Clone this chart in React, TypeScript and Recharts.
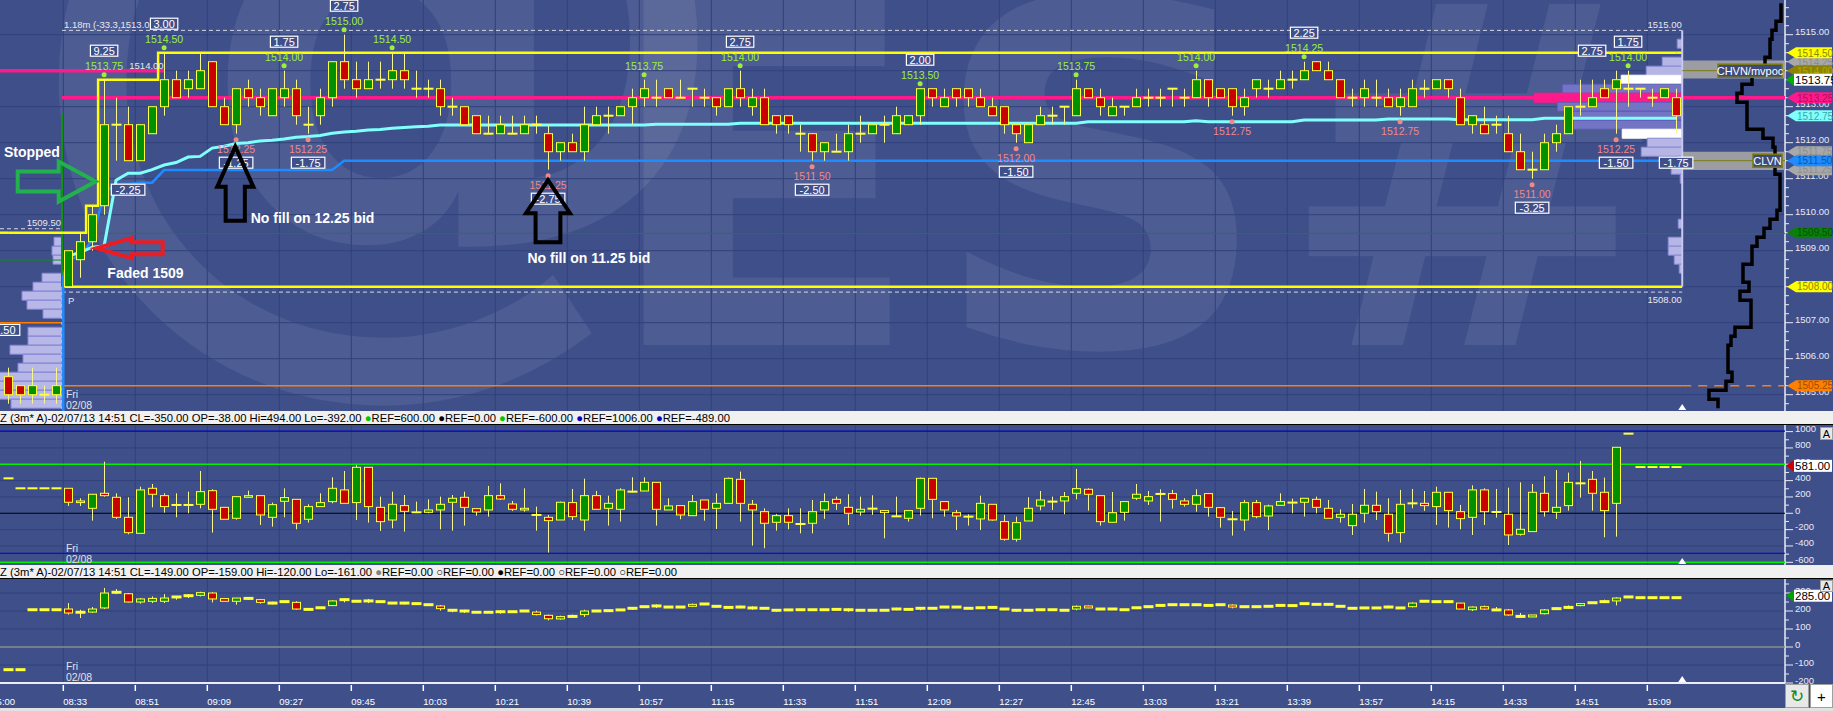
import React from 'react';
import {
  ComposedChart, Bar, Line, XAxis, YAxis, CartesianGrid,
  ReferenceLine, ReferenceArea, ReferenceDot,
} from 'recharts';

// ---------- layout & look ----------
const W = 1833;
const AXIS_W = 48;
const TOP_H = 411;
const OSC1_TOP = 425;
const OSC1_H = 140;
const OSC2_TOP = 579;
const OSC2_H = 132;
const XAXIS_H = 28;

const BG = '#3F4F8A';
const GRID = '#31407A';
const AXIS_INK = '#E8EAF4';
const UP = '#009000';
const DOWN = '#C80000';
const EDGE = '#FFFF3A';
const WICK = '#F6F68C';
const HI_INK = '#9CF03A';
const LO_INK = '#F08888';
const PINK = '#FF1A8C';
const ORANGE = '#FF7F00';
const YELLOW = '#FFFF00';
const FONT = '"Liberation Sans", Arial, sans-serif';

// ---------- data ----------
const PRE = 5; // bars shown before the session open

// E-mini 3 min bars: open, high, low, close (5 pre-session bars, then 08:33 .. 15:15)
const esBars = [
  [1505.5, 1505.75, 1504.75, 1505], [1505.25, 1505.25, 1504.75, 1505], [1505, 1505.75, 1504.75, 1505.25],
  [1505, 1505.25, 1504.75, 1505], [1505, 1505.75, 1504.75, 1505.25],
  [1508, 1509, 1508, 1509], [1508.75, 1509.5, 1508.25, 1509.25], [1509.25, 1510.25, 1509, 1510],
  [1510.25, 1513.75, 1510, 1512.5], [1512.5, 1513.25, 1511.5, 1512.5], [1512.5, 1513, 1511.5, 1511.5],
  [1511.5, 1512.5, 1511.5, 1512.5], [1512.25, 1513, 1512.25, 1513], [1513, 1514.5, 1512.75, 1513.75],
  [1513.75, 1514, 1513.25, 1513.25], [1513.5, 1514, 1513.25, 1513.75], [1513.5, 1514.5, 1513.5, 1514],
  [1514.25, 1514.25, 1513, 1513], [1513, 1513.25, 1512.5, 1512.5], [1512.5, 1513.5, 1512.25, 1513.5],
  [1513.5, 1513.75, 1513, 1513.25], [1513.25, 1513.5, 1512.75, 1513], [1512.75, 1513.5, 1512.75, 1513.5],
  [1513.25, 1514, 1513, 1513.5], [1513.5, 1513.75, 1512.5, 1512.75], [1512.5, 1513, 1512.25, 1512.5],
  [1512.75, 1513.5, 1512.5, 1513.25], [1513.25, 1514.25, 1513, 1514.25], [1514.25, 1515, 1513.5, 1513.75],
  [1513.75, 1514.25, 1513.25, 1513.5], [1513.5, 1514.25, 1513.5, 1513.75], [1513.75, 1514.25, 1513.5, 1513.75],
  [1513.75, 1514.5, 1513.5, 1514], [1514, 1514.5, 1513.5, 1513.75], [1513.5, 1514, 1513.25, 1513.5],
  [1513.5, 1513.75, 1513.25, 1513.5], [1513.5, 1513.75, 1512.75, 1513], [1513, 1513.25, 1512.75, 1513],
  [1513, 1513, 1512.5, 1512.5], [1512.75, 1512.75, 1512.25, 1512.25], [1512.25, 1512.75, 1512.25, 1512.25],
  [1512.25, 1512.75, 1512.25, 1512.5], [1512.25, 1512.75, 1512.25, 1512.25], [1512.25, 1512.75, 1512.25, 1512.5],
  [1512.5, 1512.75, 1512.25, 1512.5], [1512.25, 1512.5, 1511.25, 1511.75], [1511.75, 1512, 1511.5, 1512],
  [1512, 1512.25, 1511.75, 1511.75], [1511.75, 1513, 1511.5, 1512.5], [1512.5, 1513, 1512.5, 1512.75],
  [1512.75, 1513, 1512.25, 1512.75], [1512.75, 1513, 1512.75, 1513], [1513, 1513.5, 1512.5, 1513.25],
  [1513.25, 1513.75, 1513, 1513.5], [1513.25, 1513.75, 1513, 1513.25], [1513.5, 1513.5, 1513.25, 1513.25],
  [1513.25, 1513.75, 1513.25, 1513.25], [1513.5, 1513.5, 1513, 1513.5], [1513.25, 1513.5, 1513, 1513.25],
  [1513.25, 1513.25, 1512.75, 1513], [1513, 1513.5, 1513, 1513.5], [1513.5, 1514, 1513, 1513.25],
  [1513, 1513.5, 1512.75, 1513.25], [1513.25, 1513.5, 1512.5, 1512.5], [1512.75, 1512.75, 1512.25, 1512.5],
  [1512.75, 1512.75, 1512.25, 1512.5], [1512.25, 1512.5, 1511.75, 1512.25], [1512.25, 1512.25, 1511.5, 1511.75],
  [1511.75, 1512, 1511.5, 1512], [1511.75, 1512.25, 1511.75, 1511.75], [1511.75, 1512.5, 1511.5, 1512.25],
  [1512.25, 1512.75, 1512, 1512.25], [1512.25, 1512.5, 1512.25, 1512.5], [1512.5, 1512.75, 1512, 1512.5],
  [1512.25, 1513, 1512.25, 1512.75], [1512.5, 1512.75, 1512.5, 1512.75], [1512.75, 1513.5, 1512.5, 1513.5],
  [1513.5, 1513.5, 1513, 1513.25], [1513, 1513.5, 1513, 1513.25], [1513.5, 1513.5, 1513, 1513.25],
  [1513.5, 1513.5, 1513, 1513.25], [1513.25, 1513.5, 1513, 1513], [1513, 1513.25, 1512.75, 1512.75],
  [1513, 1513, 1512.25, 1512.5], [1512.5, 1512.5, 1512, 1512.25], [1512, 1512.5, 1512, 1512.5],
  [1512.5, 1513, 1512.5, 1512.75], [1512.75, 1513, 1512.5, 1512.75], [1513, 1513, 1512.5, 1513],
  [1512.75, 1513.75, 1512.75, 1513.5], [1513.5, 1513.5, 1513.25, 1513.25], [1513.25, 1513.5, 1512.75, 1513],
  [1512.75, 1513.25, 1512.75, 1513], [1513, 1513, 1512.75, 1513], [1513, 1513.5, 1513, 1513.25],
  [1513.25, 1513.5, 1513, 1513.25], [1513.25, 1513.5, 1513, 1513.25], [1513.5, 1513.5, 1513, 1513.5],
  [1513.25, 1513.5, 1513, 1513.25], [1513.25, 1514, 1513.25, 1513.75], [1513.75, 1513.75, 1513, 1513.25],
  [1513.5, 1513.5, 1513.25, 1513.25], [1513.5, 1513.5, 1512.75, 1513], [1513, 1513.5, 1512.75, 1513.25],
  [1513.5, 1513.75, 1513.25, 1513.75], [1513.5, 1513.75, 1513.25, 1513.5], [1513.5, 1514, 1513.5, 1513.75],
  [1513.75, 1514, 1513.5, 1513.75], [1513.75, 1514.25, 1513.75, 1514], [1514.25, 1514.25, 1514, 1514],
  [1514, 1514.25, 1513.75, 1513.75], [1513.75, 1513.75, 1513.25, 1513.25], [1513.25, 1513.5, 1513, 1513.25],
  [1513.25, 1513.75, 1513, 1513.5], [1513.25, 1513.75, 1513, 1513.25], [1513.25, 1513.5, 1513, 1513],
  [1513, 1513.5, 1512.75, 1513.25], [1513, 1513.75, 1513, 1513.5], [1513.5, 1513.75, 1513.25, 1513.5],
  [1513.5, 1513.75, 1513.5, 1513.75], [1513.75, 1513.75, 1513.25, 1513.5], [1513.25, 1513.5, 1512.5, 1512.5],
  [1512.5, 1512.75, 1512.25, 1512.75], [1512.5, 1513, 1512.25, 1512.25], [1512.5, 1512.75, 1512.25, 1512.5],
  [1512.25, 1512.75, 1511.75, 1511.75], [1511.75, 1512.25, 1511.25, 1511.25], [1511.25, 1511.75, 1511, 1511.25],
  [1511.25, 1512.25, 1511.25, 1512], [1512, 1512.5, 1511.75, 1512.25], [1512.25, 1513, 1512.25, 1513],
  [1513, 1513.75, 1512.75, 1513], [1513, 1513.75, 1513, 1513.25], [1513.5, 1513.75, 1513.25, 1513.25],
  [1513.5, 1514, 1512.25, 1513.75], [1513.5, 1514, 1513, 1513.5], [1513.5, 1513.5, 1513.25, 1513.5],
  [1513.25, 1513.5, 1513, 1513.25], [1513.25, 1513.5, 1513.25, 1513.5], [1513.25, 1513.5, 1512.25, 1512.75],
];

// upper oscillator (open, high, low, close)
const osc1Bars = [
  [428, 428, 428, 428], [306, 306, 306, 306], [306, 306, 306, 306], [306, 306, 306, 306], [306, 306, 306, 306],
  [306, 306, 90, 135], [131, 184, 90, 151], [61, 233, -90, 233], [245, 632, 204, 216], [196, 245, -69, -49],
  [-49, 196, -257, -237], [-245, 326, -245, 286], [306, 359, 73, 233], [216, 245, 8, 82], [102, 245, -49, 102],
  [102, 265, 0, 102], [110, 518, 61, 265], [277, 294, -237, 49], [73, 73, -73, -73], [-61, 204, -78, 204],
  [196, 277, 196, 216], [216, 216, -143, -20], [-49, 131, -163, 106], [147, 306, -49, 192], [171, 171, -196, -122],
  [-73, 110, -114, 82], [82, 245, 82, 131], [143, 441, 122, 306], [286, 518, 122, 122], [131, 592, -82, 563],
  [563, 563, -114, 82], [73, 204, -216, -102], [-82, 265, -184, 110], [94, 224, -224, 24], [12, 143, 12, 12],
  [12, 171, 0, 41], [41, 204, -196, 110], [135, 224, -212, 184], [196, 265, -151, 73], [57, 57, -29, 16],
  [41, 335, -41, 216], [216, 367, 163, 175], [114, 151, 29, 49], [41, 306, 20, 61], [-20, 82, -212, -20],
  [-49, -20, -481, -90], [-82, 143, -82, 135], [131, 298, -82, -41], [-82, 424, -212, 216], [216, 273, 41, 49],
  [61, 216, -151, 122], [49, 306, -102, 286], [265, 441, 255, 265], [273, 441, 273, 379], [379, 379, -151, 49],
  [41, 184, 41, 90], [94, 94, -73, -20], [-29, 224, -29, 143], [163, 163, -90, 49], [61, 245, -192, 122],
  [122, 437, 122, 428], [416, 510, -102, 122], [110, 163, -396, 41], [20, 61, -428, -122], [-110, -8, -212, -29],
  [-29, 61, -196, -110], [-131, 61, -245, -131], [-122, 163, -245, 20], [41, 245, -69, 143], [171, 204, 41, 122],
  [73, 233, -143, 0], [16, 204, -29, 49], [57, 220, -20, 57], [33, 41, -306, 8], [-37, 204, -41, -37],
  [-61, 41, -102, 33], [61, 437, -29, 428], [428, 428, -61, 171], [143, 143, -41, 41], [8, 41, -204, -33],
  [-41, -12, -151, -41], [-69, 216, -204, 122], [110, 110, -90, -82], [-102, -20, -335, -318], [-318, -41, -347, -114],
  [-94, 196, -94, 61], [90, 273, 37, 163], [143, 204, 41, 143], [151, 261, -12, 204], [245, 543, 171, 302],
  [294, 306, 33, 233], [216, 216, -151, -102], [-110, 261, -110, 8], [12, 143, -90, 143], [184, 359, 163, 233],
  [151, 273, 102, 204], [237, 294, -102, 237], [241, 286, 57, 171], [151, 184, 82, 110], [110, 294, 20, 216],
  [241, 245, -41, 73], [69, 73, -175, -49], [-73, 29, -273, -90], [-82, 163, -212, 131], [131, 163, -61, -41],
  [-33, 106, -204, 90], [98, 245, 98, 143], [131, 180, 0, 131], [135, 184, -41, 184], [171, 204, 0, 73],
  [61, 163, -61, -61], [-49, 49, -114, -12], [-151, 114, -265, -12], [0, 298, -114, 98], [98, 265, -82, 20],
  [-12, 184, -347, -245], [-237, 286, -359, 110], [122, 298, 61, 122], [122, 273, 29, 94], [82, 326, -143, 257],
  [257, 257, -175, 33], [20, 102, -196, -65], [-49, 343, -265, 286], [286, 306, -143, 20], [16, 298, -53, 16],
  [-12, 314, -388, -265], [-257, 379, -273, -196], [-224, 359, -224, 257], [245, 453, -41, 20], [12, 530, -69, 73],
  [94, 498, 33, 379], [367, 641, 192, 367], [416, 518, 33, 245], [257, 437, -294, 33], [122, 808, -286, 808],
  [975, 975, 975, 975], [567, 567, 567, 567], [567, 567, 567, 567], [567, 567, 567, 567], [567, 567, 567, 567],
];

// lower oscillator (open, high, low, close)
const osc2Bars = [
  [-126, -126, -126, -126], [-126, -126, -126, -126], [207, 207, 207, 207], [207, 207, 207, 207], [207, 207, 207, 207],
  [211, 244, 180, 189], [193, 207, 161, 193], [194, 222, 189, 211], [217, 328, 211, 300], [304, 322, 294, 304],
  [296, 300, 248, 250], [250, 272, 241, 267], [254, 281, 244, 270], [254, 294, 244, 272], [278, 281, 263, 278],
  [285, 294, 272, 285], [287, 307, 281, 302], [300, 304, 248, 267], [269, 272, 254, 254], [254, 272, 235, 272],
  [270, 276, 263, 270], [263, 267, 241, 248], [244, 252, 237, 244], [252, 256, 248, 252], [248, 254, 207, 211],
  [209, 212, 205, 209], [218, 222, 215, 218], [230, 259, 228, 256], [263, 270, 248, 263], [254, 258, 250, 254],
  [256, 267, 244, 256], [252, 255, 249, 252], [244, 248, 240, 244], [244, 250, 236, 244], [241, 244, 238, 241],
  [235, 238, 232, 235], [228, 233, 202, 213], [204, 207, 193, 204], [200, 207, 189, 200], [193, 196, 190, 193],
  [193, 196, 190, 193], [196, 204, 185, 196], [196, 199, 193, 196], [200, 204, 196, 200], [194, 202, 176, 180],
  [176, 180, 148, 157], [156, 174, 152, 169], [170, 180, 163, 170], [180, 207, 167, 200], [200, 204, 196, 200],
  [202, 205, 199, 202], [206, 209, 203, 206], [215, 222, 207, 215], [224, 228, 218, 224], [228, 237, 217, 228],
  [222, 225, 219, 222], [222, 225, 219, 222], [226, 241, 222, 237], [239, 242, 236, 239], [226, 233, 218, 226],
  [220, 223, 217, 220], [222, 230, 215, 222], [217, 226, 207, 217], [215, 218, 212, 215], [204, 211, 196, 204],
  [206, 209, 203, 206], [207, 211, 200, 207], [207, 210, 204, 207], [207, 210, 204, 207], [209, 212, 206, 209],
  [207, 215, 196, 207], [204, 207, 201, 204], [204, 207, 201, 204], [204, 207, 201, 204], [211, 218, 204, 211],
  [209, 212, 206, 209], [215, 222, 204, 215], [215, 218, 212, 215], [222, 225, 219, 222], [222, 225, 219, 222],
  [215, 218, 212, 215], [218, 221, 215, 218], [220, 223, 217, 220], [211, 217, 204, 211], [204, 211, 196, 204],
  [204, 207, 201, 204], [207, 210, 204, 207], [207, 210, 204, 207], [204, 207, 201, 204], [211, 231, 204, 226],
  [228, 230, 215, 217], [211, 214, 208, 211], [211, 214, 208, 211], [207, 210, 204, 207], [218, 221, 215, 218],
  [224, 227, 221, 224], [231, 237, 226, 231], [235, 238, 232, 235], [235, 238, 232, 235], [235, 241, 230, 235],
  [231, 234, 228, 231], [235, 238, 232, 235], [233, 237, 215, 222], [224, 227, 221, 224], [224, 227, 221, 224],
  [226, 229, 223, 226], [231, 234, 228, 231], [230, 233, 227, 230], [241, 244, 238, 241], [237, 240, 234, 237],
  [237, 244, 230, 237], [226, 229, 223, 226], [215, 218, 212, 215], [217, 220, 214, 217], [217, 220, 214, 217],
  [222, 230, 215, 222], [217, 220, 214, 217], [224, 248, 220, 244], [254, 257, 251, 254], [252, 255, 249, 252],
  [252, 255, 249, 252], [244, 244, 211, 211], [207, 226, 200, 222], [224, 230, 207, 211], [206, 222, 200, 206],
  [206, 211, 174, 178], [170, 189, 163, 170], [167, 178, 167, 178], [185, 211, 181, 206], [213, 222, 206, 213],
  [220, 231, 213, 220], [230, 244, 226, 241], [246, 250, 241, 246], [252, 263, 244, 252], [256, 276, 231, 272],
  [278, 278, 278, 278], [274, 274, 274, 274], [274, 274, 274, 274], [274, 274, 274, 274], [274, 274, 274, 274],
];

// session lines (one value per session bar)
const vwapLine = [
  1508.85, 1508.95, 1509.1, 1509.13, 1510.96, 1511.15, 1511.15, 1511.25, 1511.38, 1511.45, 1511.6, 1511.62,
  1511.85, 1511.9, 1511.98, 1512.0, 1512.05, 1512.07, 1512.1, 1512.15, 1512.17, 1512.2, 1512.26, 1512.3,
  1512.32, 1512.35, 1512.37, 1512.4, 1512.42, 1512.44, 1512.46,
  ...Array(18).fill(1512.49), ...Array(7).fill(1512.51), ...Array(29).fill(1512.54), ...Array(9).fill(1512.58),
  1512.61, ...Array(8).fill(1512.58), ...Array(7).fill(1512.63), ...Array(6).fill(1512.66),
  ...Array(7).fill(1512.64), ...Array(12).fill(1512.68),
];
const lowBandLine = [
  1508.75, 1508.85, 1509.3, 1510.6, 1510.85, 1510.85, 1510.89, 1510.89,
  ...Array(15).fill(1511.24), ...Array(112).fill(1511.5),
];
const lowBandStart = 1508.3; // value before the open
// initial-balance high, one value per bar including pre-session
const ibHighLine = [...Array(7).fill(1509.5), 1510.25, ...Array(5).fill(1513.75), ...Array(127).fill(1514.5)];

// reference levels
const ibLow = 1508;
const pocLevel = 1513.25;
const priorPocLevel = 1514;
const orangeLevel = 1505.25;
const priorOrangeLevel = 1507;
const greenLevel = 1509.48;
const priorGreenLevel = 1508.74;
const highDashLevel = 1515.12;
const lowDashLevel = 1507.85;
const priorDashLevel = 1509.61;
const hvnLevel = 1514;
const lvnLevel = 1511.5;
const lastPrice = 1513.75;

// volume profiles (price row, volume in px units)
const sessionProfilePrices = [1514.75, 1514.25, 1514, 1513.75, 1513.5, 1513.25, 1513, 1512.75, 1512.5, 1512.25,
  1512, 1511.75, 1511.5, 1511.25, 1511, 1509.75, 1509.25, 1509, 1508.75, 1508.5];
const sessionProfileVolumes = [5, 20, 36, 61, 120, 148, 125, 111, 109, 60, 35, 41, 4, 11, 2, 4, 14, 14, 8, 3];
const sessionProfileShade = ['l', 'l', 'l', 'w', 'd', 'p', 'd', 'd', 'd', 'w', 'l', 'l', 'l', 'l', 'l', 'l', 'l', 'l', 'l', 'l'];
const priorProfilePrices = [1509.25, 1509, 1508.75, 1508.25, 1508, 1507.75, 1507.5, 1507.25, 1506.75, 1506.5,
  1506.25, 1506, 1505.75, 1505.5, 1505.25, 1505, 1504.75];
const priorProfileVolumes = [8, 10, 9, 20, 29, 40, 35, 19, 34, 34, 52, 39, 44, 75, 75, 75, 51];

// TPO count per price row (far right)
const tpoPrices = Array.from({ length: 45 }, (_, k) => 1515.75 - 0.25 * k);
const tpoCounts = [40.5, 40.5, 38, 36, 35, 35, 32.5, 30, 26, 21, 18.5, 23.5, 23.5, 23.5, 31.5, 36.5, 37.5, 37.5,
  37.5, 40, 40, 40, 40, 38.5, 35, 32, 28.5, 26, 26, 21.5, 21.5, 24.5, 20, 25.5, 25.5, 25.5, 17.5, 15.5, 14, 14,
  14, 16, 13, 4.5, 9];

// swing marks
const swingHighBars = [3, 8, 18, 23, 27, 48, 56, 71, 84, 94, 103, 130];
const swingLowBars = [14, 20, 40, 62, 79, 97, 111, 122, 129];
const swingBoxBars = [3, 8, 18, 23, 56, 71, 103, 127, 130, 5, 14, 20, 40, 62, 79, 122, 129, 134];
const swingBoxTexts = ['9.25', '3.00', '1.75', '2.75', '2.75', '2.00', '2.25', '2.75', '1.75',
  '-2.25', '-1.25', '-1.75', '-2.75', '-2.50', '-1.50', '-3.25', '-1.50', '-1.75'];

// hand written notes
const noteTexts = ['Stopped', 'No fill on 12.25 bid', 'Faded 1509', 'No fill on 11.25 bid'];
const noteBars = [-5.35, 15.22, 3.27, 38.28];
const notePrices = [1511.74, 1509.91, 1508.39, 1508.81];
const arrowBars = [2.3, 2.38, 13.93, 39.99];
const arrowPrices = [1510.92, 1509.07, 1511.89, 1510.96];

// small chart texts
const infoTexts = ['1.18m (-33.3,1513.0', '1514.00', '1509.50', '1515.00', '1508.00', 'P'];
const infoBars = [-0.34, 6.53, -0.59, 134.47, 134.47, 0];
const infoPrices = [1515.29, 1514.15, 1509.78, 1515.27, 1507.65, 1507.63];
const infoAnchor = ['start', 'middle', 'end', 'end', 'end', 'start'];

// axis tags
const axisTagPrices = [1514.25, 1511.75, 1511.25, 1514.5, 1514, 1513.25, 1512.75, 1511.5, 1509.5, 1508, 1505.25];
const axisTagFills = ['#A8A8A8', '#A8A8A8', '#A8A8A8', '#FFFF00', '#8C8400', '#FF1A8C', '#80FFFF', '#1E8CFF', '#0A800A', '#FFFF00', '#FF8000'];
const axisTagInk = ['#8E8E8E', '#8E8E8E', '#8E8E8E', '#8A8A00', '#B2A600', '#B0105A', '#38A8A8', '#0C58A8', '#065006', '#8A8A00', '#A04C00'];

const osc1Refs = [1006, 600, 0, -489, -600];
const osc1RefColors = ['#0000C0', '#00F000', '#000000', '#0000C0', '#00F000'];
const osc1Last = 581;
const osc2Refs = [0];
const osc2Last = 285;

const timeLabels = ['15:00', '08:33', '08:51', '09:09', '09:27', '09:45', '10:03', '10:21', '10:39', '10:57',
  '11:15', '11:33', '11:51', '12:09', '12:27', '12:45', '13:03', '13:21', '13:39', '13:57', '14:15', '14:33',
  '14:51', '15:09'];
const timeTickBars = timeLabels.map((_, k) => -6.4 + 6 * k);

const header1 = [
  { t: 'Z (3m* A)-02/07/13 14:51 CL=-350.00 OP=-38.00 Hi=494.00 Lo=-392.00 ' },
  { t: '●', c: '#00C800' }, { t: 'REF=600.00 ' }, { t: '●', c: '#000000' }, { t: 'REF=0.00 ' },
  { t: '●', c: '#00C800' }, { t: 'REF=-600.00 ' }, { t: '●', c: '#0000C8' }, { t: 'REF=1006.00 ' },
  { t: '●', c: '#0000C8' }, { t: 'REF=-489.00' },
];
const header2 = [
  { t: 'Z (3m* A)-02/07/13 14:51 CL=-149.00 OP=-159.00 Hi=-120.00 Lo=-161.00 ' },
  { t: '●', c: '#808080' }, { t: 'REF=0.00 ' }, { t: '○' }, { t: 'REF=0.00 ' },
  { t: '●', c: '#000000' }, { t: 'REF=0.00 ' }, { t: '○' }, { t: 'REF=0.00 ' }, { t: '○' }, { t: 'REF=0.00' },
];

// ---------- scales ----------
const X0 = -5.675;
const X1 = 143.075;
const X_DOMAIN = [X0, X1];
const TOP_DOMAIN = [1504.547, 1515.964];
const OSC1_DOMAIN = [-633, 1081];
const OSC2_DOMAIN = [-200, 377.8];
const TPO_DOMAIN = [-850, 42.5];
const SESSION_START = -0.51;
const PROFILE_END = 134.51;
const VOL_BARS = 1 / 12;

const priceTicks = Array.from({ length: 45 }, (_, k) => 1504.75 + 0.25 * k);
const gridPrices = Array.from({ length: 11 }, (_, k) => 1505 + k);
const osc1Ticks = Array.from({ length: 17 }, (_, k) => -600 + 100 * k);
const osc2Ticks = Array.from({ length: 12 }, (_, k) => -200 + 50 * k);
const gridBars = timeTickBars.filter((b) => b > X0);

const rows = esBars.map((b, k) => ({
  i: k - PRE,
  es: b,
  o1: osc1Bars[k],
  o2: osc2Bars[k],
  ib: ibHighLine[k],
  vwap: k >= PRE ? vwapLine[k - PRE] : null,
  vlow: k >= PRE ? lowBandLine[k - PRE] : null,
}));
const tpoPoints = tpoPrices.flatMap((p, k) => [{ c: tpoCounts[k], p: p + 0.125 }, { c: tpoCounts[k], p: p - 0.125 }]);

// ---------- drawing helpers ----------
function makeCandle(key: string, dashH: number) {
  return (props: any) => {
    const { x, y, width, height, payload } = props;
    const bar = payload && payload[key];
    if (!bar) return <g />;
    const [o, h, l, c] = bar;
    const top = Math.min(y, y + height);
    const bot = Math.max(y, y + height);
    const cx = Math.round(x + width / 2) + 0.5;
    const at = (v: number) => (h === l ? top : top + ((h - v) / (h - l)) * (bot - top));
    const yo = at(o);
    const yc = at(c);
    const bodyH = Math.abs(yc - yo);
    return (
      <g>
        <line x1={cx} x2={cx} y1={top} y2={bot} stroke={WICK} strokeWidth={1} />
        {bodyH < 1.5 ? (
          <rect x={cx - 5} y={yo - dashH / 2} width={10} height={dashH} fill={EDGE} />
        ) : (
          <rect x={cx - 4} y={Math.min(yo, yc)} width={8} height={bodyH}
            fill={c > o ? UP : DOWN} stroke={EDGE} strokeWidth={1} />
        )}
      </g>
    );
  };
}
const esCandle = makeCandle('es', 2);
const osc1Candle = makeCandle('o1', 2);
const osc2Candle = makeCandle('o2', 3);

const PriceTick = (p: any) => {
  const v = p.payload.value;
  const major = Math.abs(v - Math.round(v)) < 1e-6;
  return (
    <g>
      <line x1={p.x} x2={p.x + (major ? 8 : 4)} y1={p.y} y2={p.y} stroke={AXIS_INK} />
      {major && (
        <text x={p.x + 10} y={p.y + 0.5} fill={AXIS_INK} fontSize={9.5} fontFamily={FONT}>{v.toFixed(2)}</text>
      )}
    </g>
  );
};
const makeOscTick = (labelStep: number) => (p: any) => {
  const v = p.payload.value;
  const major = v % labelStep === 0;
  return (
    <g>
      <line x1={p.x} x2={p.x + (major ? 8 : 4)} y1={p.y} y2={p.y} stroke={AXIS_INK} />
      {major && (
        <text x={p.x + 10} y={p.y + 0.5} fill={AXIS_INK} fontSize={9.5} fontFamily={FONT}>{String(v)}</text>
      )}
    </g>
  );
};
const Osc1Tick = makeOscTick(200);
const Osc2Tick = makeOscTick(100);

const TimeTick = (p: any) => {
  const k = timeTickBars.indexOf(p.payload.value);
  return (
    <g>
      <line x1={p.x} x2={p.x} y1={p.y + 2} y2={p.y + 8} stroke="#FFFFFF" strokeWidth={1.5} />
      <text x={p.x} y={p.y + 22} fill="#FFFFFF" fontSize={9.5} fontFamily={FONT}>{timeLabels[k]}</text>
    </g>
  );
};

function Layer({ top, height, domain, xAxisH = 0, axes = false, yTicks, yTick, children }: any) {
  return (
    <div style={{ position: 'absolute', left: 0, top, width: W, height }}>
      <ComposedChart width={W} height={height} data={rows} margin={{ top: 0, right: 0, bottom: 0, left: 0 }}>
        <XAxis dataKey="i" type="number" domain={X_DOMAIN} allowDataOverflow
          hide={xAxisH === 0} height={xAxisH || 30}
          ticks={timeTickBars} interval={0} tickSize={0} tickMargin={0}
          tick={axes ? <TimeTick /> : false} tickLine={false}
          axisLine={axes ? { stroke: '#ECECF2', strokeWidth: 2 } : false} />
        <XAxis xAxisId="tpo" dataKey="c" type="number" domain={TPO_DOMAIN} allowDataOverflow hide />
        <YAxis orientation="right" width={AXIS_W} type="number" domain={domain} allowDataOverflow
          ticks={yTicks} interval={0} tickSize={0} tickMargin={0}
          tick={axes ? yTick : false} tickLine={false}
          axisLine={axes ? { stroke: AXIS_INK, strokeWidth: 1.5 } : false} />
        {children}
      </ComposedChart>
    </div>
  );
}

const mark = (key: string, x: number, y: number, shape: (s: any) => any) => (
  <ReferenceDot key={key} x={x} y={y} r={1} ifOverflow="visible" shape={shape} />
);

const seg = (key: string, xa: number, ya: number, xb: number, yb: number, stroke: string, width = 1, dash?: string) => (
  <ReferenceLine key={key} segment={[{ x: xa, y: ya }, { x: xb, y: yb }]} stroke={stroke}
    strokeWidth={width} strokeDasharray={dash} ifOverflow="hidden" />
);

const boxShape = (text: string, dy: number) => (s: any) => {
  const w = text.length * 6.1 + 3;
  const cy = s.cy + dy;
  return (
    <g>
      <rect x={s.cx - w / 2} y={cy - 5.5} width={w} height={11} fill={BG} stroke="#FFFFFF" strokeWidth={1.2} />
      <text x={s.cx} y={cy + 4} textAnchor="middle" fill="#FFFFFF" fontSize={11} fontFamily={FONT}>{text}</text>
    </g>
  );
};

const tagShape = (label: string, fill: string, ink: string) => (s: any) => (
  <g>
    <polygon points={`${s.cx + 2},${s.cy} ${s.cx + 11},${s.cy - 5.5} ${s.cx + 47},${s.cy - 5.5} ${s.cx + 47},${s.cy + 5.5} ${s.cx + 11},${s.cy + 5.5}`} fill={fill} />
    <text x={s.cx + 12} y={s.cy + 3.8} fill={ink} fontSize={10} fontFamily={FONT}>{label}</text>
  </g>
);

const lastTagShape = (label: string, arrow: string) => (s: any) => (
  <g>
    <polygon points={`${s.cx + 1},${s.cy} ${s.cx + 9},${s.cy - 6} ${s.cx + 9},${s.cy + 6}`} fill={arrow} />
    <rect x={s.cx + 9} y={s.cy - 6} width={38} height={12} fill="#FFFFFF" />
    <text x={s.cx + 10} y={s.cy + 4.5} fill="#000000" fontSize={11.5} fontFamily={FONT}>{label}</text>
  </g>
);

const arrowPolys = [
  [[0, 0], [-37, -20], [-37, -10], [-78, -10], [-78, 10], [-37, 10], [-37, 20]],
  [[0, 0], [35, -10], [35, -6], [66, -6], [66, 6], [35, 6], [35, 10]],
  [[0, 0], [18, 40], [9.6, 40], [9.6, 74], [-9.6, 74], [-9.6, 40], [-18, 40]],
  [[0, 0], [22, 33], [12.4, 33], [12.4, 62], [-12.4, 62], [-12.4, 33], [-22, 33]],
];
const arrowColors = ['#22B14C', '#ED1C24', '#000000', '#000000'];

const Watermark = () => (
  <svg width={1785} height={TOP_H} style={{ position: 'absolute', left: 0, top: 0 }}>
    <g fill="#FFFFFF" fillOpacity={0.075} fontFamily='"DejaVu Sans", sans-serif' fontWeight={700}>
      <text x={10} y={277} fontSize={740}>@</text>
      <text x={600} y={345} fontSize={475} letterSpacing={5}>ES#</text>
    </g>
  </svg>
);

const HeaderBar = ({ top, parts, len }: any) => (
  <div style={{ position: 'absolute', left: 0, top, width: W, height: 14, background: '#F0F0F0', borderBottom: '1px solid #000', boxSizing: 'border-box' }}>
    <svg width={W} height={13} style={{ display: 'block' }}>
      <text x={0} y={10.5} fontSize={11.5} fontFamily={FONT} fill="#000" textLength={len}
        lengthAdjust="spacingAndGlyphs" style={{ whiteSpace: 'pre' }}>
        {parts.map((pt: any, k: number) => <tspan key={k} fill={pt.c || '#000'}>{pt.t}</tspan>)}
      </text>
    </svg>
  </div>
);

const smallBtn: any = {
  position: 'absolute', background: '#E8E8E8', border: '1px solid #A0A0A0', boxSizing: 'border-box',
  display: 'flex', alignItems: 'center', justifyContent: 'center', fontFamily: FONT, color: '#000',
};

const friText = (key: string, y1: number, y2: number) => [
  mark(key + 'a', -0.18, y1, (s: any) => <text x={s.cx} y={s.cy + 4} fill="#E0E0E8" fontSize={10.5} fontFamily={FONT}>Fri</text>),
  mark(key + 'b', -0.18, y2, (s: any) => <text x={s.cx} y={s.cy + 4} fill="#E0E0E8" fontSize={10.5} fontFamily={FONT}>02/08</text>),
];

const triangle = (key: string, y: number) =>
  mark(key, PROFILE_END, y, (s: any) => <polygon points={`${s.cx},${s.cy - 7} ${s.cx - 4},${s.cy - 1} ${s.cx + 4},${s.cy - 1}`} fill="#FFFFFF" />);

export default function App() {
  const shadeFill: any = { l: '#B6B6E6', d: '#7474C4', w: '#FFFFFF', p: PINK };
  const shadeEdge: any = { l: '#8A8AD6', d: '#5A5AB6', w: '#FFFFFF', p: PINK };

  return (
    <div style={{ position: 'relative', width: W, height: 711, background: BG, overflow: 'hidden', fontFamily: FONT }}>
      <style>{'body{margin:0}'}</style>
      <Watermark />

      {/* ===== price panel ===== */}
      <Layer top={0} height={TOP_H} domain={TOP_DOMAIN} axes yTicks={priceTicks} yTick={<PriceTick />}>
        <CartesianGrid stroke={GRID} horizontalValues={gridPrices} verticalValues={gridBars} />
      </Layer>

      <Layer top={0} height={TOP_H} domain={TOP_DOMAIN}>
        {priorProfilePrices.map((p, k) => (
          <ReferenceArea key={'pp' + k} x1={SESSION_START - priorProfileVolumes[k] * VOL_BARS} x2={SESSION_START}
            y1={p - 0.125} y2={p + 0.125} fill="#B8B8E8" fillOpacity={1} stroke="#8484D4" strokeWidth={1} ifOverflow="hidden" />
        ))}
        {sessionProfilePrices.map((p, k) => (
          <ReferenceArea key={'sp' + k} x1={PROFILE_END - sessionProfileVolumes[k] * VOL_BARS} x2={PROFILE_END}
            y1={p - 0.125} y2={p + 0.125} fill={shadeFill[sessionProfileShade[k]]} fillOpacity={1}
            stroke={shadeEdge[sessionProfileShade[k]]} strokeWidth={1} ifOverflow="hidden" />
        ))}
        <ReferenceArea x1={PROFILE_END} x2={X1} y1={hvnLevel - 0.22} y2={hvnLevel + 0.28} fill="#A4A4A4" fillOpacity={0.92} ifOverflow="hidden" />
        <ReferenceArea x1={PROFILE_END} x2={X1} y1={lvnLevel - 0.26} y2={lvnLevel + 0.25} fill="#A4A4A4" fillOpacity={0.92} ifOverflow="hidden" />
      </Layer>

      <Layer top={0} height={TOP_H} domain={TOP_DOMAIN}>
        {seg('poc0', X0, priorPocLevel, 8, priorPocLevel, PINK, 3.5)}
        {seg('poc1', SESSION_START, pocLevel, X1, pocLevel, PINK, 3.5)}
        {seg('or0', X0, priorOrangeLevel, SESSION_START, priorOrangeLevel, ORANGE, 1.5)}
        {seg('or1', SESSION_START, orangeLevel, PROFILE_END, orangeLevel, ORANGE, 1.5)}
        {seg('or2', PROFILE_END, orangeLevel, X1, orangeLevel, ORANGE, 1.5, '9 7')}
        {seg('gr1', SESSION_START, greenLevel, X1, greenLevel, '#138A13', 1)}
        {seg('gr0', X0, priorGreenLevel, SESSION_START, priorGreenLevel, '#138A13', 1)}
        {seg('ibl', SESSION_START, ibLow, PROFILE_END, ibLow, YELLOW, 2.5)}
        {seg('ibh0', X0, ibHighLine[0], -PRE, ibHighLine[0], YELLOW, 2.5)}
        {seg('ibh1', 134, ibHighLine[139], PROFILE_END, ibHighLine[139], YELLOW, 2.5)}
        {seg('dh', SESSION_START, highDashLevel, PROFILE_END, highDashLevel, '#D8D8E0', 1, '4 3')}
        {seg('dl', SESSION_START, lowDashLevel, PROFILE_END, lowDashLevel, '#D8D8E0', 1, '4 3')}
        {seg('dp', X0, priorDashLevel, SESSION_START, priorDashLevel, '#D8D8E0', 1, '4 3')}
        {seg('sv', SESSION_START, ibLow, SESSION_START, 1512.82, '#119011', 2)}
        {seg('sd', SESSION_START, lowDashLevel, SESSION_START, TOP_DOMAIN[0], '#D8D8E0', 1, '3 3')}
        {seg('bv', -0.4, TOP_DOMAIN[0], -0.4, lowBandStart, '#1E8CFF', 2.5)}
        {seg('bv2', -0.4, lowBandStart, 0, lowBandLine[0], '#1E8CFF', 2.5)}
        {seg('pe', PROFILE_END, highDashLevel, PROFILE_END, ibLow, '#C8C8F0', 2)}
        {seg('hv', PROFILE_END, hvnLevel, X1, hvnLevel, '#7A7A10', 1)}
        {seg('lv', PROFILE_END, lvnLevel, X1, lvnLevel, '#7A7A10', 1)}
        <Line dataKey="ib" type="step" stroke={YELLOW} strokeWidth={2.5} dot={false} activeDot={false} isAnimationActive={false} />
        <Line dataKey="vlow" type="linear" stroke="#1E8CFF" strokeWidth={2.5} dot={false} activeDot={false} isAnimationActive={false} />
        <Line dataKey="vwap" type="linear" stroke="#80FFFF" strokeWidth={3} dot={false} activeDot={false} isAnimationActive={false} />
      </Layer>

      <Layer top={0} height={TOP_H} domain={TOP_DOMAIN}>
        <Bar dataKey={(d: any) => [d.es[2], d.es[1]]} barSize={10} shape={esCandle} isAnimationActive={false} />
      </Layer>

      <Layer top={0} height={TOP_H} domain={TOP_DOMAIN}>
        {swingHighBars.map((b, k) => {
          const p = esBars[b + PRE][1];
          return mark('hi' + k, b, p, (s: any) => (
            <g>
              <circle cx={s.cx} cy={s.cy - 5} r={2.5} fill={HI_INK} />
              <text x={s.cx} y={s.cy - 10} textAnchor="middle" fill={HI_INK} fontSize={10.5} fontFamily={FONT}>{p.toFixed(2)}</text>
            </g>
          ));
        })}
        {swingLowBars.map((b, k) => {
          const p = esBars[b + PRE][2];
          return mark('lo' + k, b, p, (s: any) => (
            <g>
              <circle cx={s.cx} cy={s.cy + 6} r={2.5} fill={LO_INK} />
              <text x={s.cx} y={s.cy + 19} textAnchor="middle" fill={LO_INK} fontSize={10.5} fontFamily={FONT}>{p.toFixed(2)}</text>
            </g>
          ));
        })}
        {swingBoxBars.map((b, k) => {
          const t = swingBoxTexts[k];
          const down = t.startsWith('-');
          const p = esBars[b + PRE][down ? 2 : 1];
          return mark('bx' + k, b, p, boxShape(t, down ? 29 : -29));
        })}
        {mark('bxl', -5.42, 1506.8, boxShape('-1.50', 0))}
        {infoTexts.map((t, k) => mark('in' + k, infoBars[k], infoPrices[k], (s: any) => (
          <text x={s.cx} y={s.cy} dominantBaseline="central" textAnchor={infoAnchor[k] as any}
            fill="#E8E8F0" fontSize={9.5} fontFamily={FONT}>{t}</text>
        )))}
        {friText('ft', 1505.02, 1504.71)}
        {triangle('tr0', TOP_DOMAIN[0])}
        {mark('hvnl', X1, hvnLevel, (s: any) => (
          <g>
            <rect x={s.cx - 67} y={s.cy - 6.5} width={64} height={13} fill="#3E4A7C" stroke="#7A7A10" strokeWidth={1.5} />
            <text x={s.cx - 35} y={s.cy + 4} textAnchor="middle" fill="#FFFFFF" fontSize={11} fontFamily={FONT}>CHVN/mvpoc</text>
          </g>
        ))}
        {mark('lvnl', X1, lvnLevel, (s: any) => (
          <g>
            <rect x={s.cx - 32} y={s.cy - 6.5} width={29} height={13} fill="#3E4A7C" stroke="#7A7A10" strokeWidth={1.5} />
            <text x={s.cx - 17.5} y={s.cy + 4} textAnchor="middle" fill="#FFFFFF" fontSize={11} fontFamily={FONT}>CLVN</text>
          </g>
        ))}
        <Line data={tpoPoints} xAxisId="tpo" dataKey="p" type="linear" stroke="#000000" strokeWidth={3.5}
          dot={false} activeDot={false} isAnimationActive={false} />
        {noteTexts.map((t, k) => mark('nt' + k, noteBars[k], notePrices[k], (s: any) => (
          <text x={s.cx} y={s.cy} dominantBaseline="central" fill="#FFFFFF" fontSize={14} fontWeight={700} fontFamily={FONT}>{t}</text>
        )))}
        {arrowPolys.map((poly, k) => mark('ar' + k, arrowBars[k], arrowPrices[k], (s: any) => (
          <polygon points={poly.map(([dx, dy]) => `${s.cx + dx},${s.cy + dy}`).join(' ')}
            fill="none" stroke={arrowColors[k]} strokeWidth={4} strokeLinejoin="miter" />
        )))}
        {axisTagPrices.map((p, k) => mark('tg' + k, X1, p, tagShape(p.toFixed(2), axisTagFills[k], axisTagInk[k])))}
        {mark('last', X1, lastPrice, lastTagShape(lastPrice.toFixed(2), '#00B000'))}
      </Layer>

      <HeaderBar top={411} parts={header1} len={730} />

      {/* ===== oscillator 1 ===== */}
      <Layer top={OSC1_TOP} height={OSC1_H} domain={OSC1_DOMAIN} axes yTicks={osc1Ticks} yTick={<Osc1Tick />}>
        <CartesianGrid stroke={GRID} horizontalValues={[-400, -200, 200, 400, 800]} verticalValues={gridBars} />
      </Layer>
      <Layer top={OSC1_TOP} height={OSC1_H} domain={OSC1_DOMAIN}>
        {osc1Refs.map((v, k) => <ReferenceLine key={'r1' + k} y={v} stroke={osc1RefColors[k]} strokeWidth={k === 1 || k === 4 ? 1.6 : 1.1} ifOverflow="hidden" />)}
      </Layer>
      <Layer top={OSC1_TOP} height={OSC1_H} domain={OSC1_DOMAIN}>
        <Bar dataKey={(d: any) => [d.o1[2], d.o1[1]]} barSize={10} shape={osc1Candle} isAnimationActive={false} />
      </Layer>
      <Layer top={OSC1_TOP} height={OSC1_H} domain={OSC1_DOMAIN}>
        {friText('f1', -429, -563)}
        {triangle('tr1', OSC1_DOMAIN[0])}
        {mark('t1', X1, osc1Last, lastTagShape(osc1Last.toFixed(2), '#D00000'))}
      </Layer>

      <HeaderBar top={565} parts={header2} len={677} />

      {/* ===== oscillator 2 + time axis ===== */}
      <Layer top={OSC2_TOP} height={OSC2_H} domain={OSC2_DOMAIN} xAxisH={XAXIS_H} axes yTicks={osc2Ticks} yTick={<Osc2Tick />}>
        <CartesianGrid stroke={GRID} horizontalValues={[-100, 100, 200, 300]} verticalValues={gridBars} />
      </Layer>
      <Layer top={OSC2_TOP} height={OSC2_H} domain={OSC2_DOMAIN} xAxisH={XAXIS_H}>
        {osc2Refs.map((v, k) => <ReferenceLine key={'r2' + k} y={v} stroke="#8C8C8C" strokeWidth={1.5} ifOverflow="hidden" />)}
      </Layer>
      <Layer top={OSC2_TOP} height={OSC2_H} domain={OSC2_DOMAIN} xAxisH={XAXIS_H}>
        <Bar dataKey={(d: any) => [d.o2[2], d.o2[1]]} barSize={10} shape={osc2Candle} isAnimationActive={false} />
      </Layer>
      <Layer top={OSC2_TOP} height={OSC2_H} domain={OSC2_DOMAIN} xAxisH={XAXIS_H}>
        {friText('f2', -108, -167)}
        {triangle('tr2', OSC2_DOMAIN[0])}
        {mark('t2', X1, osc2Last, lastTagShape(osc2Last.toFixed(2), '#00A000'))}
      </Layer>

      <div style={{ ...smallBtn, left: 1820, top: 427, width: 13, height: 13, fontSize: 11 }}>A</div>
      <div style={{ ...smallBtn, left: 1820, top: 580, width: 13, height: 12, fontSize: 11 }}>A</div>
      <div style={{ position: 'absolute', left: 0, top: 708, width: W, height: 3, background: '#E2E2E2' }} />
      <div style={{ ...smallBtn, left: 1785, top: 684, width: 24, height: 24, fontSize: 17, color: '#108A10', fontFamily: '"DejaVu Sans"' }}>↻</div>
      <div style={{ ...smallBtn, left: 1810, top: 684, width: 23, height: 24, fontSize: 15, background: '#FFFFFF' }}>+</div>
    </div>
  );
}
